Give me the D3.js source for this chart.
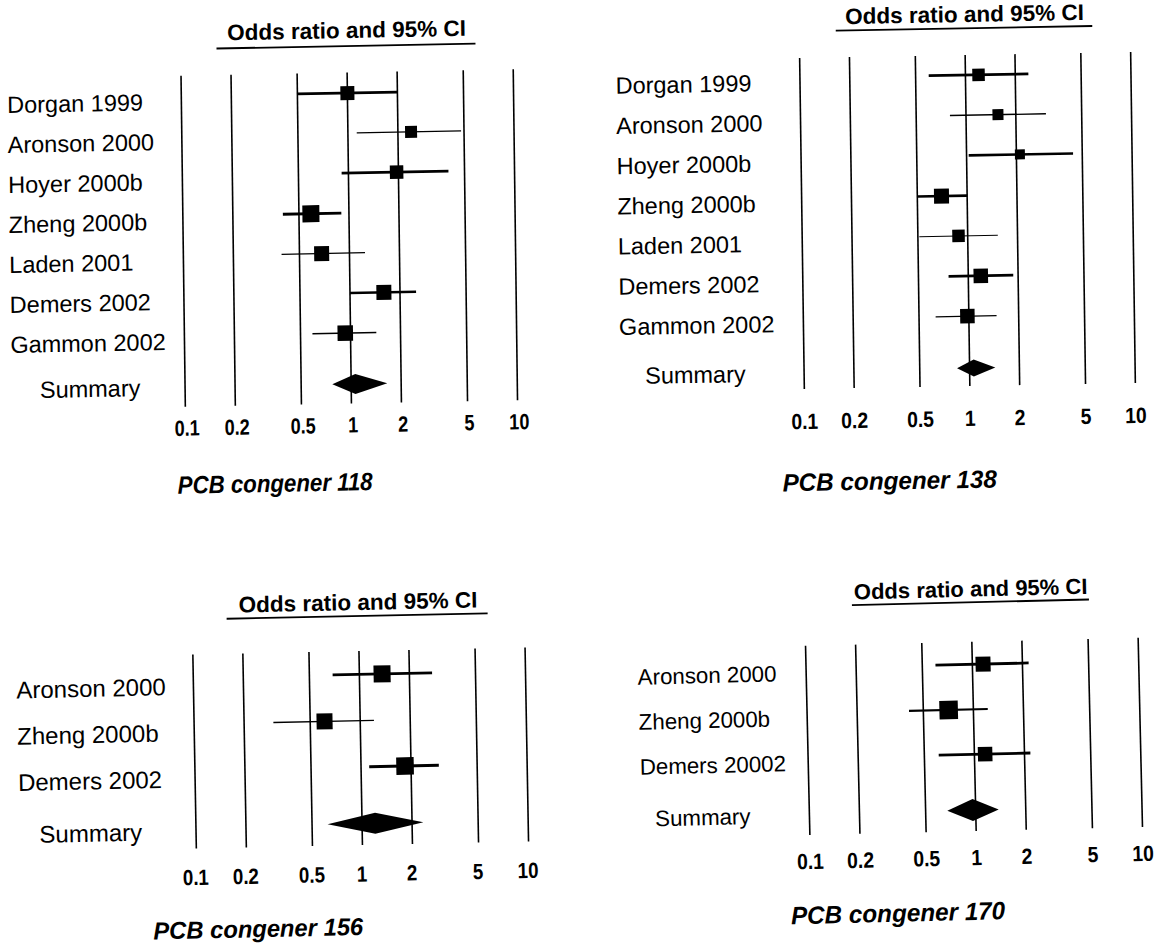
<!DOCTYPE html>
<html>
<head>
<meta charset="utf-8">
<script src="https://cdn.jsdelivr.net/npm/d3@7/dist/d3.min.js"></script>
<style>
  html, body { margin: 0; padding: 0; background: #fff; }
  svg { display: block; }
  text { font-family: "Liberation Sans", Arial, Helvetica, sans-serif; fill: #000; }
</style>
</head>
<body>
<svg id="chart" width="1157" height="945"></svg>
<script>
// ---------------- data ----------------
const axisTicks = [0.1, 0.2, 0.5, 1, 2, 5, 10];
const axisTickLabels = ["0.1", "0.2", "0.5", "1", "2", "5", "10"];
const headerText = "Odds ratio and 95% CI";
const summaryLabel = "Summary";

// PCB congener 118
const studies118 = ["Dorgan 1999", "Aronson 2000", "Hoyer 2000b", "Zheng 2000b", "Laden 2001", "Demers 2002", "Gammon 2002"];
const or118 = [1.00, 2.40, 1.95, 0.59, 0.68, 1.60, 0.93];
const lower118 = [0.50, 1.13, 0.91, 0.40, 0.39, 1.00, 0.59];
const upper118 = [2.00, 4.80, 4.00, 0.90, 1.24, 2.50, 1.43];
const weight118 = [1.40, 1.20, 1.35, 1.70, 1.50, 1.50, 1.55];
const summary118 = [0.77, 1.06, 1.65]; // lower, estimate, upper

// PCB congener 138
const studies138 = ["Dorgan 1999", "Aronson 2000", "Hoyer 2000b", "Zheng 2000b", "Laden 2001", "Demers 2002", "Gammon 2002"];
const or138 = [1.20, 1.56, 2.10, 0.70, 0.88, 1.19, 0.98];
const lower138 = [0.60, 0.80, 1.03, 0.50, 0.51, 0.76, 0.63];
const upper138 = [2.40, 3.04, 4.40, 1.00, 1.52, 1.87, 1.47];
const weight138 = [1.25, 1.10, 1.00, 1.50, 1.25, 1.45, 1.45];
const summary138 = [0.84, 1.06, 1.43];

// PCB congener 156
const studies156 = ["Aronson 2000", "Zheng 2000b", "Demers 2002"];
const or156 = [1.37, 0.61, 1.84];
const lower156 = [0.69, 0.30, 1.12];
const upper156 = [2.74, 1.21, 2.94];
const weight156 = [1.70, 1.60, 1.75];
const summary156 = [0.62, 1.20, 2.34];

// PCB congener 170
const studies170 = ["Aronson 2000", "Zheng 2000b", "Demers 20002"];
const or170 = [1.16, 0.71, 1.16];
const lower170 = [0.60, 0.41, 0.61];
const upper170 = [2.18, 1.22, 2.17];
const weight170 = [1.50, 1.85, 1.45];
const summary170 = [0.675, 0.96, 1.375];

// ---------------- layout (positions / styles only) ----------------
const panels = [
  {
    caption: "PCB congener 118",
    data: { studies: studies118, or: or118, lo: lower118, hi: upper118, w: weight118, sum: summary118 },
    pivot: [350, 240], kx: 0.013, ky: -0.019,
    x0: 183.2, x10: 515.4, top: 72.5, bottom: 403.5,
    rowStart: 93, rowStep: 40, sumY: 384, diamondH: 20,
    labelX: 9, labelDy: 13.5, labelFont: 23.5, sumLabelX: 38, sumLabelY: 392,
    tickY: 432.5, tickDx: 1.5, tickFont: 22, tickSx: 0.82,
    titleY: 38, titleFont: 22.5, ulY: 46, ulX: [219, 478],
    capX: 272, capY: 490.5, capFont: 25, capSx: 0.89,
    ciStroke: [2.7, 1.3, 2.7, 2.8, 1.3, 2.5, 1.3]
  },
  {
    caption: "PCB congener 138",
    data: { studies: studies138, or: or138, lo: lower138, hi: upper138, w: weight138, sum: summary138 },
    pivot: [968, 221], kx: 0.0142, ky: -0.018,
    x0: 802, x10: 1133, top: 55, bottom: 386,
    rowStart: 75, rowStep: 40.2, sumY: 368, diamondH: 17,
    labelX: 617.6, labelDy: 12.5, labelFont: 23.5, sumLabelX: 643, sumLabelY: 378,
    tickY: 426, tickDx: 0, tickFont: 22, tickSx: 0.88,
    titleY: 22, titleFont: 22.5, ulY: 28.3, ulX: [838.5, 1095],
    capX: 886, capY: 488, capFont: 25, capSx: 0.97,
    ciStroke: [2.7, 1.3, 2.7, 2.7, 1.1, 2.7, 1.3]
  },
  {
    caption: "PCB congener 156",
    data: { studies: studies156, or: or156, lo: lower156, hi: upper156, w: weight156, sum: summary156 },
    pivot: [361, 748], kx: 0.018, ky: -0.021,
    x0: 194.6, x10: 526.8, top: 651, bottom: 845,
    rowStart: 674.4, rowStep: 46.25, sumY: 823.6, diamondH: 21,
    labelX: 17.5, labelDy: 16.8, labelFont: 24, sumLabelX: 38, sumLabelY: 836,
    tickY: 881.5, tickDx: -1, tickFont: 22, tickSx: 0.85,
    titleY: 610, titleFont: 22.5, ulY: 616, ulX: [229, 490],
    capX: 255, capY: 935, capFont: 24.5, capSx: 0.97,
    ciStroke: [2.8, 1.3, 2.8]
  },
  {
    caption: "PCB congener 170",
    data: { studies: studies170, or: or170, lo: lower170, hi: upper170, w: weight170, sum: summary170 },
    pivot: [975, 736], kx: 0.023, ky: -0.024,
    x0: 807.7, x10: 1140.3, top: 641.8, bottom: 831,
    rowStart: 664.3, rowStep: 45, sumY: 810, diamondH: 22,
    labelX: 639.2, labelDy: 12.4, labelFont: 22.3, sumLabelX: 653.4, sumLabelY: 818.6,
    tickY: 865, tickDx: 0, tickFont: 22, tickSx: 0.88,
    titleY: 596.6, titleFont: 22, ulY: 602.3, ulX: [855, 1092],
    capX: 894, capY: 919.8, capFont: 25, capSx: 0.97,
    ciStroke: [2.8, 2.2, 2.8]
  }
];

const svg = d3.select("#chart");

function drawPanel(P) {
  const d = P.data;
  const [px, py] = P.pivot;
  const g = svg.append("g")
    .attr("transform", `matrix(1,${P.ky},${P.kx},1,${-P.kx * py},${-P.ky * px})`);

  const x = d3.scaleLog().domain([0.1, 10]).range([P.x0, P.x10]);
  const n = d.studies.length;
  const y = d3.scaleLinear().domain([0, n - 1]).range([P.rowStart, P.rowStart + P.rowStep * (n - 1)]);
  const size = d3.scaleLinear().domain([0, 1]).range([0, 10]);

  // vertical reference lines at tick values
  g.append("g").selectAll("line")
    .data(axisTicks).join("line")
    .attr("x1", v => x(v)).attr("x2", v => x(v))
    .attr("y1", P.top).attr("y2", P.bottom)
    .attr("stroke", "#000").attr("stroke-width", 1.6);

  // tick labels (condensed bold digits)
  g.append("g").selectAll("text")
    .data(axisTicks).join("text")
    .attr("transform", v => `translate(${x(v) + P.tickDx},${P.tickY}) scale(${P.tickSx},1)`)
    .attr("text-anchor", "middle")
    .attr("font-weight", "bold")
    .attr("font-size", P.tickFont)
    .text((v, i) => axisTickLabels[i]);

  // header with underline
  g.append("text")
    .attr("x", x(1)).attr("y", P.titleY)
    .attr("text-anchor", "middle")
    .attr("font-weight", "bold")
    .attr("font-size", P.titleFont)
    .text(headerText);
  g.append("line")
    .attr("x1", P.ulX[0]).attr("x2", P.ulX[1])
    .attr("y1", P.ulY).attr("y2", P.ulY)
    .attr("stroke", "#000").attr("stroke-width", 1.8);

  // CI lines
  g.append("g").selectAll("line")
    .data(d.studies).join("line")
    .attr("x1", (s, i) => x(d.lo[i])).attr("x2", (s, i) => x(d.hi[i]))
    .attr("y1", (s, i) => y(i)).attr("y2", (s, i) => y(i))
    .attr("stroke", "#000")
    .attr("stroke-width", (s, i) => P.ciStroke[i]);

  // point estimate squares
  g.append("g").selectAll("rect")
    .data(d.studies).join("rect")
    .attr("x", (s, i) => x(d.or[i]) - size(d.w[i]) / 2)
    .attr("y", (s, i) => y(i) - size(d.w[i]) / 2)
    .attr("width", (s, i) => size(d.w[i]))
    .attr("height", (s, i) => size(d.w[i]))
    .attr("fill", "#000");

  // summary diamond
  const [sl, se, su] = d.sum;
  const h = P.diamondH / 2;
  g.append("path")
    .attr("d", d3.line()([
      [x(sl), P.sumY], [x(se), P.sumY - h], [x(su), P.sumY], [x(se), P.sumY + h]
    ]) + "Z")
    .attr("fill", "#000");

  // study labels
  g.append("g").selectAll("text")
    .data(d.studies).join("text")
    .attr("x", P.labelX)
    .attr("y", (s, i) => y(i) + P.labelDy)
    .attr("font-size", P.labelFont)
    .text(s => s);

  g.append("text")
    .attr("x", P.sumLabelX).attr("y", P.sumLabelY)
    .attr("font-size", P.labelFont)
    .text(summaryLabel);

  // caption
  g.append("text")
    .attr("transform", `translate(${P.capX},${P.capY}) scale(${P.capSx},1)`)
    .attr("text-anchor", "middle")
    .attr("font-weight", "bold")
    .attr("font-style", "italic")
    .attr("font-size", P.capFont)
    .text(P.caption);
}

panels.forEach(drawPanel);
</script>
</body>
</html>
